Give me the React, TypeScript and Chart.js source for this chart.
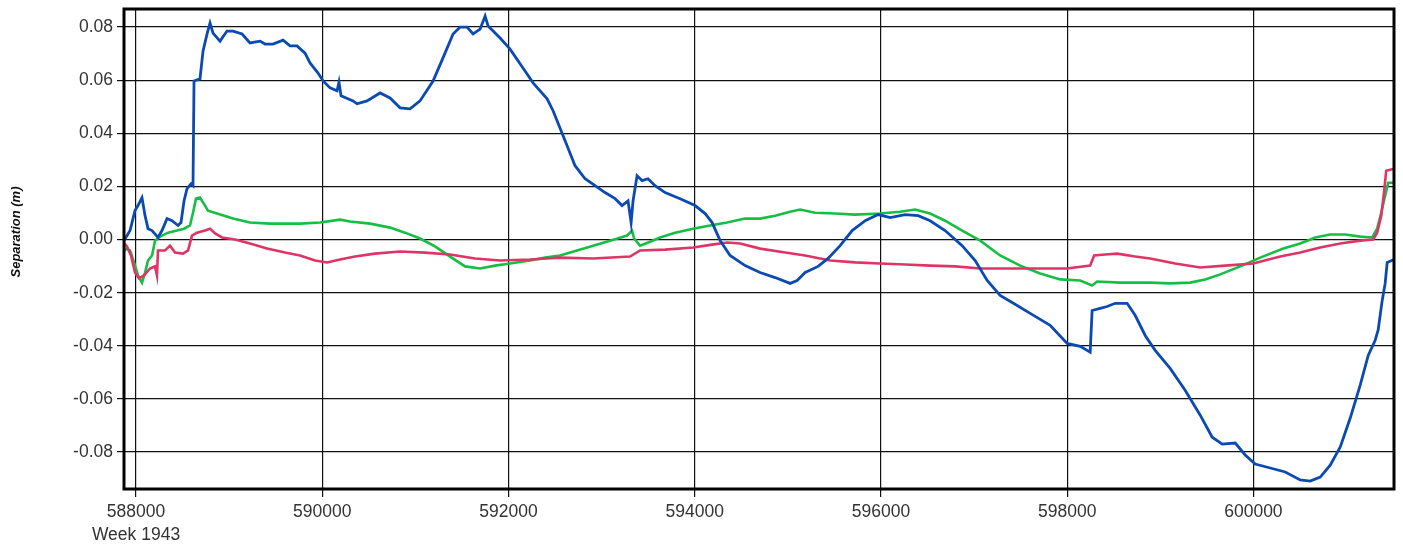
import React, { useEffect, useRef } from "react";
import { Chart, registerables } from "chart.js";

Chart.register(...registerables);

// ---- data ----
const blueX = [587871, 587936, 587989, 588021, 588064, 588097, 588129, 588172, 588236, 588279, 588333, 588387, 588451, 588483, 588516, 588548, 588591, 588612, 588623, 588687, 588720, 588763, 588795, 588827, 588902, 588977, 589042, 589139, 589224, 589332, 589386, 589471, 589579, 589654, 589729, 589815, 589869, 589955, 590009, 590084, 590159, 590180, 590202, 590331, 590374, 590481, 590621, 590728, 590836, 590943, 591050, 591190, 591297, 591405, 591480, 591555, 591620, 591695, 591749, 591781, 591910, 592017, 592200, 592264, 592415, 592479, 592522, 592608, 592715, 592823, 592930, 593037, 593145, 593220, 593284, 593317, 593338, 593381, 593435, 593499, 593574, 593682, 593843, 594004, 594112, 594187, 594273, 594380, 594541, 594702, 594863, 595025, 595100, 595186, 595325, 595432, 595562, 595691, 595831, 595970, 596099, 596260, 596400, 596528, 596689, 596872, 597012, 597141, 597280, 597409, 597603, 597817, 598000, 598140, 598247, 598268, 598354, 598429, 598516, 598644, 598730, 598838, 598945, 599106, 599267, 599429, 599558, 599665, 599805, 599912, 600019, 600181, 600342, 600503, 600610, 600718, 600825, 600933, 601040, 601147, 601233, 601308, 601340, 601383, 601415, 601437, 601512];
const blueY = [-0.0004, 0.0034, 0.0109, 0.0128, 0.0158, 0.009, 0.0041, 0.0034, 0.0008, 0.0034, 0.0079, 0.0071, 0.0053, 0.0064, 0.0146, 0.0192, 0.021, 0.0203, 0.0597, 0.0605, 0.071, 0.0774, 0.0815, 0.0777, 0.0747, 0.0785, 0.0785, 0.0774, 0.074, 0.0747, 0.0736, 0.0736, 0.0751, 0.0729, 0.0729, 0.0702, 0.0665, 0.0627, 0.0597, 0.0571, 0.056, 0.0593, 0.0541, 0.0522, 0.0511, 0.0522, 0.0552, 0.0533, 0.0496, 0.0492, 0.0522, 0.0597, 0.0684, 0.0774, 0.08, 0.08, 0.0774, 0.0792, 0.0841, 0.0804, 0.0759, 0.0717, 0.0623, 0.059, 0.053, 0.0485, 0.0447, 0.0372, 0.0278, 0.0229, 0.0203, 0.0177, 0.0154, 0.0128, 0.0146, 0.0064, 0.0146, 0.024, 0.0222, 0.0229, 0.0203, 0.0177, 0.0154, 0.0128, 0.0098, 0.0064, -0.0004, -0.006, -0.0098, -0.0124, -0.0143, -0.0165, -0.0154, -0.0124, -0.0101, -0.0071, -0.0023, 0.0034, 0.0071, 0.0094, 0.0083, 0.0094, 0.009, 0.0071, 0.0034, -0.0023, -0.0079, -0.0154, -0.021, -0.0237, -0.0278, -0.0323, -0.0391, -0.0402, -0.0424, -0.0267, -0.0259, -0.0252, -0.024, -0.024, -0.0285, -0.0361, -0.0417, -0.0485, -0.0567, -0.0661, -0.0744, -0.077, -0.0766, -0.0811, -0.0845, -0.086, -0.0875, -0.0905, -0.0909, -0.0894, -0.0849, -0.0781, -0.0672, -0.0548, -0.0436, -0.0379, -0.034, -0.023, -0.0165, -0.0086, -0.0075];

const greenX = [587850, 587893, 587936, 587979, 588021, 588064, 588097, 588129, 588172, 588204, 588258, 588344, 588440, 588516, 588580, 588612, 588644, 588687, 588741, 588773, 588870, 589042, 589224, 589439, 589762, 589976, 590191, 590299, 590514, 590728, 590889, 591050, 591211, 591373, 591534, 591695, 591856, 592017, 592232, 592393, 592554, 592736, 592909, 593091, 593274, 593327, 593349, 593413, 593521, 593628, 593789, 593983, 594165, 594348, 594541, 594702, 594863, 595025, 595132, 595293, 595508, 595723, 595991, 596206, 596367, 596528, 596689, 596872, 597066, 597280, 597495, 597710, 597925, 598140, 598268, 598322, 598569, 598891, 599106, 599321, 599483, 599644, 599858, 600073, 600321, 600503, 600664, 600825, 600986, 601147, 601276, 601329, 601373, 601415, 601448, 601512];
const greenY = [-0.0053, -0.0034, -0.0041, -0.0086, -0.0135, -0.0162, -0.0124, -0.0079, -0.006, -0.0004, 0.0011, 0.0026, 0.0034, 0.0041, 0.0053, 0.0101, 0.0154, 0.0158, 0.0128, 0.0109, 0.0098, 0.0079, 0.0064, 0.006, 0.006, 0.0064, 0.0075, 0.0068, 0.006, 0.0045, 0.0026, 0.0004, -0.0026, -0.0064, -0.0101, -0.0109, -0.0098, -0.009, -0.0079, -0.0068, -0.006, -0.0041, -0.0023, -0.0004, 0.0015, 0.0034, 0.0004, -0.0023, -0.0008, 0.0008, 0.0026, 0.0041, 0.0053, 0.0064, 0.0079, 0.0079, 0.009, 0.0105, 0.0113, 0.0101, 0.0098, 0.0094, 0.0098, 0.0105, 0.0113, 0.0098, 0.0071, 0.0034, -0.0004, -0.006, -0.0098, -0.0128, -0.015, -0.0154, -0.0173, -0.0158, -0.0162, -0.0162, -0.0165, -0.0162, -0.015, -0.0131, -0.0101, -0.0068, -0.0034, -0.0015, 0.0008, 0.0019, 0.0019, 0.0011, 0.0008, 0.0041, 0.0101, 0.0165, 0.0214, 0.0214];

const redX = [587850, 587903, 587946, 587989, 588032, 588086, 588150, 588204, 588225, 588236, 588311, 588365, 588419, 588505, 588559, 588601, 588655, 588741, 588795, 588849, 588924, 589064, 589224, 589407, 589600, 589762, 589923, 590052, 590191, 590352, 590567, 590836, 591104, 591373, 591641, 591910, 592232, 592554, 592909, 593306, 593413, 593682, 593983, 594187, 594348, 594488, 594702, 594971, 595186, 595454, 595723, 595991, 596260, 596528, 596797, 597066, 597388, 597710, 598000, 598247, 598290, 598408, 598537, 598730, 598891, 599160, 599429, 599697, 599998, 600288, 600503, 600718, 600933, 601147, 601287, 601329, 601373, 601405, 601426, 601512];
const redY = [-0.0004, -0.0026, -0.006, -0.0124, -0.0146, -0.0135, -0.0109, -0.0101, -0.0135, -0.0041, -0.0041, -0.0023, -0.0049, -0.0053, -0.0041, 0.0015, 0.0026, 0.0034, 0.0041, 0.0023, 0.0008, 0, -0.0015, -0.0034, -0.0049, -0.006, -0.0079, -0.0086, -0.0075, -0.0064, -0.0053, -0.0045, -0.0049, -0.0056, -0.0071, -0.0079, -0.0075, -0.0068, -0.0071, -0.0064, -0.0041, -0.0038, -0.003, -0.0019, -0.0011, -0.0015, -0.0034, -0.0049, -0.006, -0.0079, -0.0086, -0.009, -0.0094, -0.0098, -0.0101, -0.0109, -0.0109, -0.0109, -0.0109, -0.0098, -0.006, -0.0056, -0.0053, -0.0064, -0.0071, -0.009, -0.0105, -0.0098, -0.009, -0.0064, -0.0049, -0.003, -0.0015, -0.0004, 0, 0.0026, 0.009, 0.0184, 0.0259, 0.0267];

const xTickValues = [588000, 590000, 592000, 594000, 596000, 598000, 600000];
const yTickValues = [-0.08, -0.06, -0.04, -0.02, 0, 0.02, 0.04, 0.06, 0.08];
const yTickLabels = ["-0.08", "-0.06", "-0.04", "-0.02", "0.00", "0.02", "0.04", "0.06", "0.08"];
const xMin = 587871;
const xMax = 601510;
const yMin = -0.0939;
const yMax = 0.0868;
const xSubLabel = "Week 1943";
const yTitle = "Separation (m)";

const FONT = "'Liberation Sans', Arial, sans-serif";

function pts(xs: number[], ys: number[]) {
  return xs.map((x, i) => ({ x, y: ys[i] }));
}

const framePlugin = {
  id: "frame",
  afterDatasetsDraw(chart: any) {
    const { ctx, chartArea } = chart;
    ctx.save();
    ctx.strokeStyle = "#000";
    ctx.lineWidth = 3;
    ctx.strokeRect(chartArea.left, chartArea.top, chartArea.right - chartArea.left, chartArea.bottom - chartArea.top);
    ctx.restore();
  },
  afterDraw(chart: any) {
    const { ctx } = chart;
    ctx.save();
    ctx.translate(16, 232);
    ctx.rotate(-Math.PI / 2);
    ctx.font = `italic bold 13px ${FONT}`;
    ctx.fillStyle = "#111";
    ctx.textAlign = "center";
    ctx.textBaseline = "middle";
    ctx.fillText(yTitle, 0, 0);
    ctx.restore();
  },
};

export default function App() {
  const ref = useRef<HTMLCanvasElement | null>(null);

  useEffect(() => {
    if (!ref.current) return;
    const chart = new Chart(ref.current, {
      type: "line",
      data: {
        datasets: [
          { label: "blue", data: pts(blueX, blueY), borderColor: "rgb(10,74,178)", borderWidth: 2.8 },
          { label: "red", data: pts(redX, redY), borderColor: "rgb(222,52,102)", borderWidth: 2.6 },
          { label: "green", data: pts(greenX, greenY), borderColor: "rgb(22,190,68)", borderWidth: 2.6 },
        ],
      },
      options: {
        animation: false,
        responsive: true,
        maintainAspectRatio: false,
        parsing: false as any,
        elements: { point: { radius: 0 }, line: { tension: 0 } },
        layout: { padding: { top: 9, right: 9, left: 0, bottom: 0 } },
        plugins: { legend: { display: false }, tooltip: { enabled: false } },
        scales: {
          x: {
            type: "linear",
            min: xMin,
            max: xMax,
            border: { display: false },
            grid: { color: "#111", lineWidth: 1.2, tickLength: 8, tickColor: "#111" },
            afterBuildTicks: (s: any) => {
              s.ticks = xTickValues.map((v) => ({ value: v }));
            },
            ticks: {
              autoSkip: false,
              maxRotation: 0,
              padding: 3,
              color: "#333",
              font: { family: FONT, size: 17.5, lineHeight: 1.35 },
              callback: (v: any, i: number) => (i === 0 ? [String(v), xSubLabel] : String(v)),
            },
            afterFit: (s: any) => {
              s.height = 59;
              s.paddingLeft = 0;
              s.paddingRight = 0;
            },
          },
          y: {
            type: "linear",
            min: yMin,
            max: yMax,
            border: { display: false },
            grid: { color: "#111", lineWidth: 1.2, tickLength: 7, tickColor: "#111" },
            afterBuildTicks: (s: any) => {
              s.ticks = yTickValues.map((v) => ({ value: v }));
            },
            ticks: {
              autoSkip: false,
              padding: 4,
              color: "#333",
              font: { family: FONT, size: 17.5 },
              callback: (v: any, i: number) => yTickLabels[i],
            },
            afterFit: (s: any) => {
              s.width = 124;
              s.paddingTop = 0;
              s.paddingBottom = 0;
            },
          },
        },
      },
      plugins: [framePlugin],
    });
    return () => chart.destroy();
  }, []);

  return (
    <div style={{ position: "absolute", left: 0, top: 0, width: 1403, height: 548, background: "#fff" }}>
      <canvas ref={ref} />
    </div>
  );
}
